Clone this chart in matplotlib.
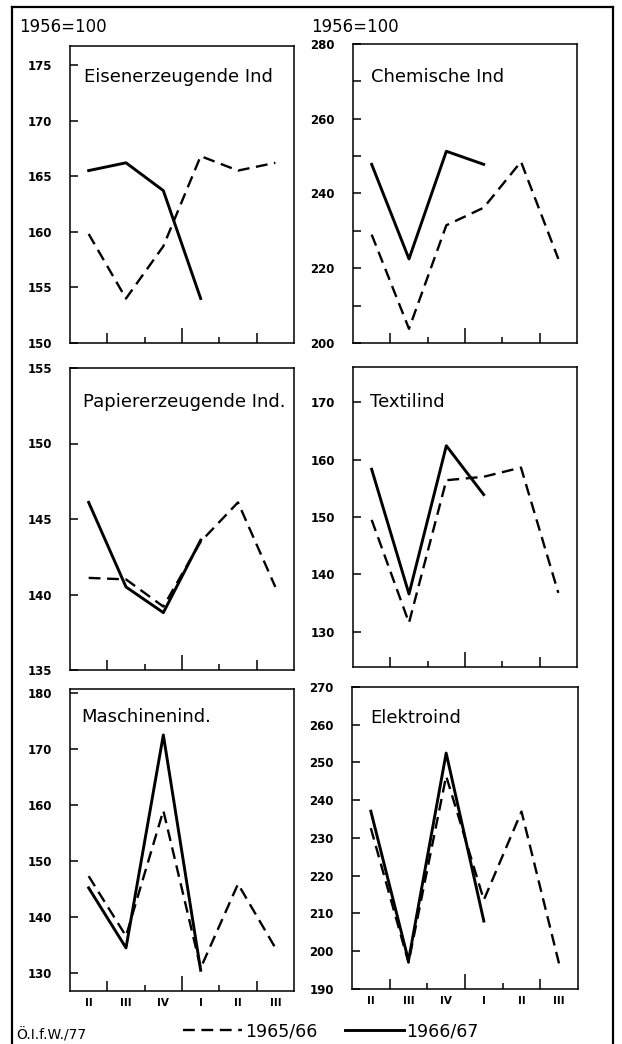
import matplotlib
matplotlib.use("Agg")
import matplotlib.pyplot as plt
from matplotlib.lines import Line2D

# quarters II/65 .. III/66 (dashed) and II/66 .. I/67 (solid)
quarters = ["II", "III", "IV", "I", "II", "III"]

eisen_6566 = [159.8, 154.0, 158.7, 166.8, 165.5, 166.2]
eisen_6667 = [165.5, 166.2, 163.7, 154.0]
chemie_6566 = [229.0, 203.8, 231.5, 236.2, 248.5, 222.5]
chemie_6667 = [247.8, 222.5, 251.3, 247.8]
papier_6566 = [141.1, 141.0, 139.2, 143.5, 146.1, 140.5]
papier_6667 = [146.1, 140.5, 138.8, 143.6]
textil_6566 = [149.5, 131.6, 156.4, 157.0, 158.6, 136.8]
textil_6667 = [158.3, 136.6, 162.4, 153.9]
maschinen_6566 = [147.3, 136.6, 159.0, 130.9, 145.9, 134.5]
maschinen_6667 = [145.2, 134.5, 172.5, 130.5]
elektro_6566 = [232.6, 197.0, 246.4, 213.6, 237.0, 196.6]
elektro_6667 = [237.1, 197.5, 252.5, 208.0]

W, H = 622, 1044
fig = plt.figure(figsize=(W / 100, H / 100), dpi=100)


def box(left, top, right, bottom):
    return [left / W, 1 - bottom / H, (right - left) / W, (bottom - top) / H]


panels = [
    # title, dashed, solid, rect, ylim, major, minor, title pos
    ("Eisenerzeugende Ind", eisen_6566, eisen_6667, box(70, 46, 294, 343),
     (150, 176.7), range(150, 176, 5), [], (0.062, 0.895)),
    ("Chemische Ind", chemie_6566, chemie_6667, box(353, 44, 577, 343),
     (200, 280), range(200, 281, 20), range(210, 280, 20), (0.08, 0.89)),
    ("Papiererzeugende Ind.", papier_6566, papier_6667, box(70, 368, 294, 670),
     (135, 155), range(135, 156, 5), [], (0.058, 0.887)),
    ("Textilind", textil_6566, textil_6667, box(353, 367, 577, 667),
     (123.9, 176.1), range(130, 171, 10), [], (0.076, 0.883)),
    ("Maschinenind.", maschinen_6566, maschinen_6667, box(70, 689, 294, 991),
     (126.8, 180.7), range(130, 181, 10), [], (0.05, 0.907)),
    ("Elektroind", elektro_6566, elektro_6667, box(352, 687, 578, 989),
     (190, 270), range(190, 271, 10), [], (0.08, 0.897)),
]

tick_len = [7, 4.5, 11, 4.5, 7]
DASH = (5, 2.8)

for i, (title, d1, d2, rect, ylim, major, minor, tpos) in enumerate(panels):
    ax = fig.add_axes(rect)
    ax.plot(range(len(d1)), d1, color="black", lw=1.7, dashes=DASH)
    ax.plot(range(len(d2)), d2, color="black", lw=2.1)
    ax.set_xlim(-0.5, 5.5)
    ax.set_ylim(*ylim)
    ax.set_yticks(list(major))
    ax.set_yticks(list(minor), minor=True)
    ax.tick_params(axis="y", which="both", direction="in", length=6, width=1.1,
                   pad=13, labelsize=8.5)
    for lab in ax.get_yticklabels():
        lab.set_fontweight("bold")
    # quarter labels at centres, separators at boundaries
    ax.set_xticks(range(6))
    if i >= 4:
        ax.set_xticklabels(quarters, fontsize=7.5, fontweight="bold")
    else:
        ax.set_xticklabels([])
    ax.tick_params(axis="x", which="major", length=0, pad=5)
    ax.set_xticks([0.5, 1.5, 2.5, 3.5, 4.5], minor=True)
    ax.tick_params(axis="x", which="minor", direction="in", width=1.1)
    for t, ln in zip(ax.xaxis.get_minor_ticks(), tick_len):
        t.tick1line.set_markersize(ln)
        t.tick2line.set_visible(False)
    for s in ax.spines.values():
        s.set_linewidth(1.1)
    ax.text(tpos[0], tpos[1], title, transform=ax.transAxes, fontsize=13,
            ha="left", va="center")

fig.text(19 / W, 1 - 27 / H, "1956=100", fontsize=12, ha="left", va="center")
fig.text(311 / W, 1 - 27 / H, "1956=100", fontsize=12, ha="left", va="center")
fig.text(16 / W, 1 - 1035 / H, "Ö.I.f.W./77", fontsize=10, ha="left", va="center")

# outer frame
for xs, ys in [([12, 12], [7, H]), ([12, 613], [7, 7]), ([613, 613], [7, H])]:
    fig.add_artist(Line2D([x / W for x in xs], [1 - y / H for y in ys],
                          transform=fig.transFigure, color="black", lw=1.6))

handles = [Line2D([], [], color="black", lw=1.7, dashes=DASH),
           Line2D([], [], color="black", lw=2.1)]
fig.legend(handles, ["1965/66", "1966/67"], loc="center",
           bbox_to_anchor=(331 / W, 1 - 1031 / H), ncol=2, frameon=False,
           fontsize=12.5, handlelength=3.4, handletextpad=0.15,
           columnspacing=1.6, borderpad=0)

fig.savefig("out.png", dpi=100)
